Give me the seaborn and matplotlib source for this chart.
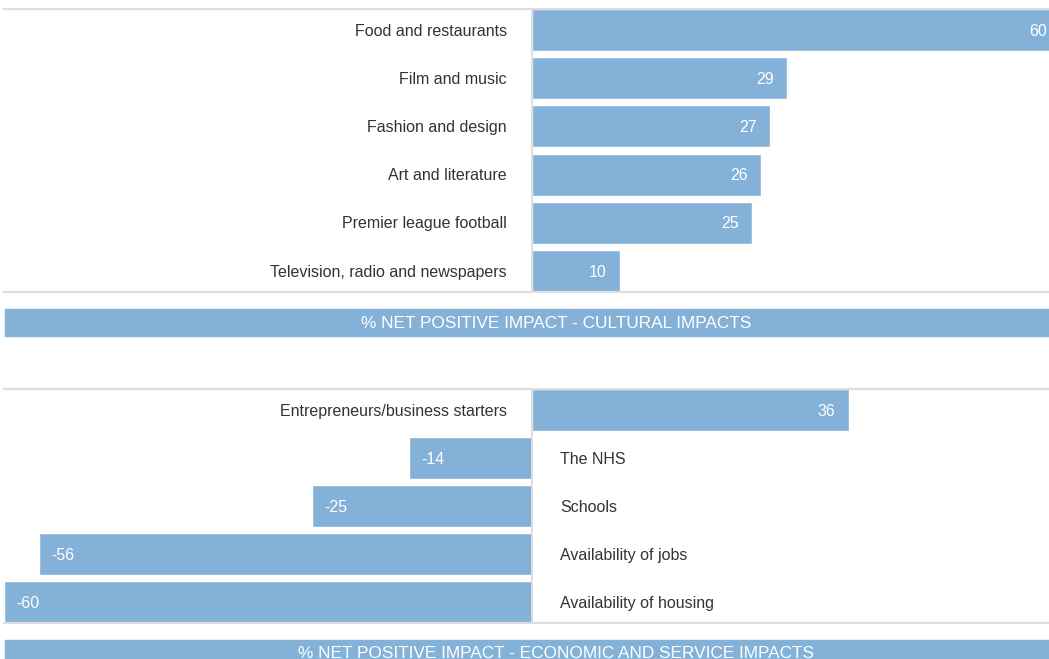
import matplotlib
matplotlib.use('Agg')
import matplotlib.pyplot as plt
from matplotlib.patches import Rectangle
import seaborn as sns
import pandas as pd

# data
cultural_labels = ['Food and restaurants', 'Film and music', 'Fashion and design',
                   'Art and literature', 'Premier league football',
                   'Television, radio and newspapers']
cultural_values = [60, 29, 27, 26, 25, 10]
cultural_title = '% NET POSITIVE IMPACT - CULTURAL IMPACTS'

economic_labels = ['Entrepreneurs/business starters', 'The NHS', 'Schools',
                   'Availability of jobs', 'Availability of housing']
economic_values = [36, -14, -25, -56, -60]
economic_title = '% NET POSITIVE IMPACT - ECONOMIC AND SERVICE IMPACTS'

BAR_COLOR = '#83B1D7'
LINE_COLOR = '#DDDDE2'
TEXT_COLOR = '#333333'

sns.set_style("white")
plt.rcParams['font.family'] = ['Liberation Sans', 'DejaVu Sans']

W, H = 1049, 659
fig = plt.figure(figsize=(W / 100, H / 100), dpi=100)


def px_axes(x0, x1, y_top, y_bot):
    """Axes placed by pixel coordinates (origin top-left)."""
    return fig.add_axes([x0 / W, (H - y_bot) / H, (x1 - x0) / W, (y_bot - y_top) / H])


def draw_panel(ax, labels, values):
    df = pd.DataFrame({'label': labels, 'value': values})
    bar_h = 0.875
    sns.barplot(data=df, y='label', x='value', orient='h', color=BAR_COLOR,
                width=bar_h, saturation=1, ax=ax)
    ax.set_xlim(-60, 60)
    ax.set_ylim(len(labels) - 1 + bar_h / 2, -bar_h / 2)
    ax.set_xlabel('')
    ax.set_ylabel('')
    ax.set_xticks([])
    ax.set_yticks([])
    for side in ['left', 'right']:
        ax.spines[side].set_visible(False)
    for side in ['top', 'bottom']:
        ax.spines[side].set_color(LINE_COLOR)
        ax.spines[side].set_linewidth(1.6)
    ax.axvline(0, color=LINE_COLOR, lw=1.4, zorder=3)

    dy = -0.8  # nudge text down a pixel
    for i, (lab, val) in enumerate(zip(labels, values)):
        if val >= 0:
            ax.annotate(lab, (0, i), xytext=(-18, dy), textcoords='offset points',
                        ha='right', va='center', fontsize=11.5, color=TEXT_COLOR)
            ax.annotate(str(val), (val, i), xytext=(-9.5, dy), textcoords='offset points',
                        ha='right', va='center', fontsize=11.5, color='white')
        else:
            ax.annotate(lab, (0, i), xytext=(20.5, dy), textcoords='offset points',
                        ha='left', va='center', fontsize=11.5, color=TEXT_COLOR)
            ax.annotate(str(val), (val, i), xytext=(9, dy), textcoords='offset points',
                        ha='left', va='center', fontsize=11.5, color='white')


def draw_band(y_top, title):
    fig.patches.append(Rectangle((5 / W, (H - y_top - 27) / H), 1.2, 27 / H,
                                 transform=fig.transFigure, color=BAR_COLOR, zorder=0))
    fig.text(556.5 / W, (H - y_top - 14) / H, title, ha='center', va='center',
             color='white', fontsize=12.4)


ax1 = px_axes(4, 1060, 9, 292)
draw_panel(ax1, cultural_labels, cultural_values)
draw_band(309, cultural_title)

ax2 = px_axes(4, 1060, 389, 623)
draw_panel(ax2, economic_labels, economic_values)
draw_band(640, economic_title)

fig.savefig('out.png', dpi=100)
